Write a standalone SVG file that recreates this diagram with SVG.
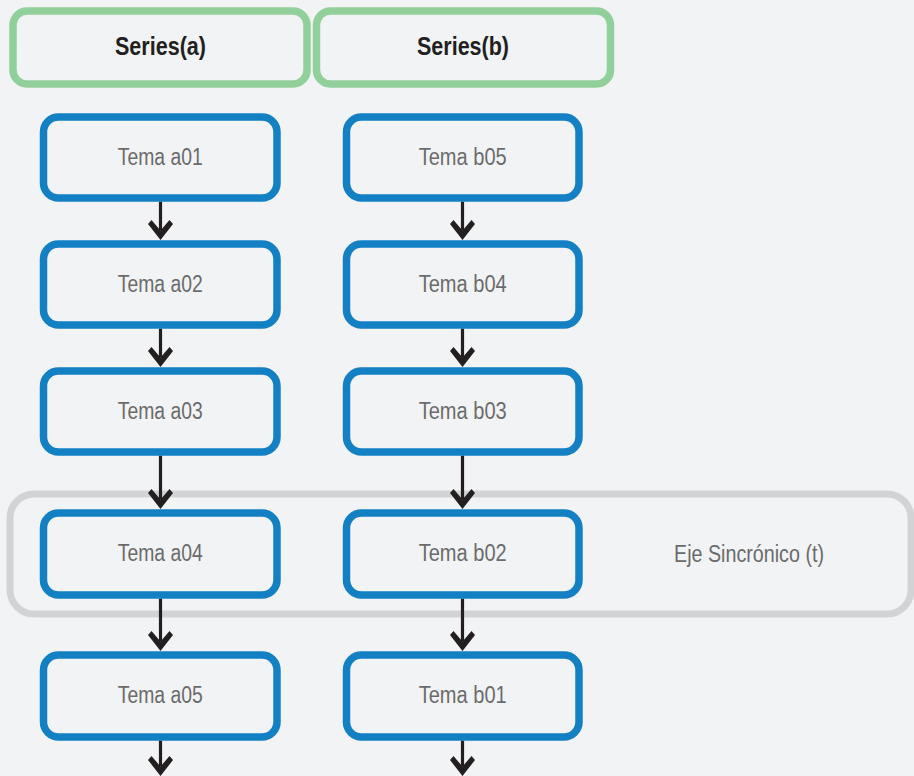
<svg xmlns="http://www.w3.org/2000/svg" width="914" height="776" viewBox="0 0 914 776">
<style>
.series rect{fill:#f2f3f5;stroke:#91d09a;stroke-width:7.5}
.series text{font-family:"Liberation Sans",Arial,sans-serif;font-weight:bold;font-size:26px;fill:#231f20;text-anchor:middle}
.node rect{fill:#f2f3f5;stroke:#1480c4;stroke-width:7.5}
.node text{font-family:"Liberation Sans",Arial,sans-serif;font-size:23px;fill:#6b6b6b;text-anchor:middle}
.group rect{fill:none;stroke:#d2d3d5;stroke-width:7}
.group text{font-family:"Liberation Sans",Arial,sans-serif;font-size:23px;fill:#6b6b6b;text-anchor:middle}
.conn line{stroke:#231f20;stroke-width:3.2;marker-end:url(#arr)}
</style>
<defs>
<marker id="arr" markerUnits="userSpaceOnUse" orient="auto" viewBox="-21 -13 22 26" markerWidth="22" markerHeight="26" refX="-9.5" refY="0">
<path d="M0,0 L-16,-12.5 L-20,-9 L-9.5,0 L-20,9 L-16,12.5 Z" fill="#231f20"/>
</marker>
</defs>
<rect width="914" height="776" fill="#f2f3f5"/>
<g id="eje" class="group">
<rect x="10" y="494" width="901" height="120" rx="24"/>
<text x="749" y="562" textLength="150" lengthAdjust="spacingAndGlyphs">Eje Sincrónico (t)</text>
</g>
<g id="series-a" class="series">
<rect x="13" y="11" width="294" height="73" rx="14"/>
<text x="160.5" y="54.5" textLength="91" lengthAdjust="spacingAndGlyphs">Series(a)</text>
</g>
<g id="series-b" class="series">
<rect x="316.5" y="11" width="294" height="73" rx="14"/>
<text x="463" y="54.5" textLength="92" lengthAdjust="spacingAndGlyphs">Series(b)</text>
</g>
<g id="connectors" class="conn">
<line x1="160.5" y1="201.5" x2="160.5" y2="230.5"/>
<line x1="160.5" y1="328.5" x2="160.5" y2="357.5"/>
<line x1="160.5" y1="455.5" x2="160.5" y2="499.5"/>
<line x1="160.5" y1="598.5" x2="160.5" y2="641.5"/>
<line x1="160.5" y1="740.5" x2="160.5" y2="766.5"/>
<line x1="462.5" y1="201.5" x2="462.5" y2="230.5"/>
<line x1="462.5" y1="328.5" x2="462.5" y2="357.5"/>
<line x1="462.5" y1="455.5" x2="462.5" y2="499.5"/>
<line x1="462.5" y1="598.5" x2="462.5" y2="641.5"/>
<line x1="462.5" y1="740.5" x2="462.5" y2="766.5"/>
</g>
<g id="a01" class="node"><rect x="43.5" y="117" width="233.5" height="81" rx="15"/><text x="160.3" y="164.5" textLength="85" lengthAdjust="spacingAndGlyphs">Tema a01</text></g>
<g id="a02" class="node"><rect x="43.5" y="244" width="233.5" height="81" rx="15"/><text x="160.3" y="291.5" textLength="85" lengthAdjust="spacingAndGlyphs">Tema a02</text></g>
<g id="a03" class="node"><rect x="43.5" y="371" width="233.5" height="81" rx="15"/><text x="160.3" y="418.5" textLength="85" lengthAdjust="spacingAndGlyphs">Tema a03</text></g>
<g id="a04" class="node"><rect x="43.5" y="513" width="233.5" height="82" rx="15"/><text x="160.3" y="561" textLength="85" lengthAdjust="spacingAndGlyphs">Tema a04</text></g>
<g id="a05" class="node"><rect x="43.5" y="655" width="233.5" height="82" rx="15"/><text x="160.3" y="702.5" textLength="85" lengthAdjust="spacingAndGlyphs">Tema a05</text></g>
<g id="b05" class="node"><rect x="346.5" y="117" width="232.5" height="81" rx="15"/><text x="462.7" y="164.5" textLength="88" lengthAdjust="spacingAndGlyphs">Tema b05</text></g>
<g id="b04" class="node"><rect x="346.5" y="244" width="232.5" height="81" rx="15"/><text x="462.7" y="291.5" textLength="88" lengthAdjust="spacingAndGlyphs">Tema b04</text></g>
<g id="b03" class="node"><rect x="346.5" y="371" width="232.5" height="81" rx="15"/><text x="462.7" y="418.5" textLength="88" lengthAdjust="spacingAndGlyphs">Tema b03</text></g>
<g id="b02" class="node"><rect x="346.5" y="513" width="232.5" height="82" rx="15"/><text x="462.7" y="561" textLength="88" lengthAdjust="spacingAndGlyphs">Tema b02</text></g>
<g id="b01" class="node"><rect x="346.5" y="655" width="232.5" height="82" rx="15"/><text x="462.7" y="702.5" textLength="88" lengthAdjust="spacingAndGlyphs">Tema b01</text></g>
</svg>
